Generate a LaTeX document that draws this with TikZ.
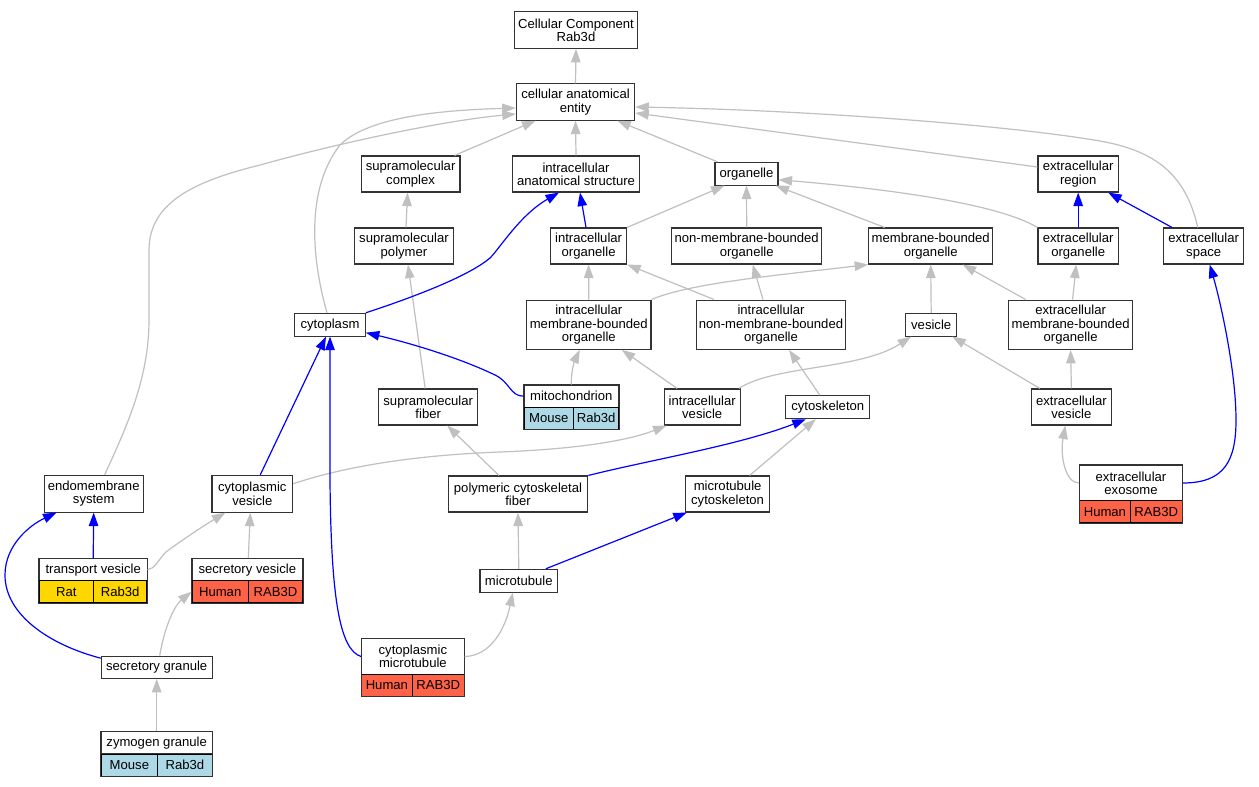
\documentclass[tikz,border=0pt]{standalone}
\usepackage{fontspec}
\setmainfont{Liberation Sans}
\usetikzlibrary{arrows.meta}
\definecolor{edgegray}{HTML}{C0C0C0}
\definecolor{rblue}{HTML}{ADD8E6}
\definecolor{rgold}{HTML}{FFD700}
\definecolor{rtomato}{HTML}{FF6347}
\definecolor{bordergray}{HTML}{333333}
\begin{document}
\begin{tikzpicture}[x=1pt,y=-1pt,
  font=\fontsize{13.1}{13.3}\selectfont,
  box/.style={draw=bordergray, line width=1.1pt, fill=white, inner sep=0pt, align=center},
  sz/.style 2 args={minimum width=#1pt, minimum height=#2pt},
  cell/.style={draw=black, line width=0.9pt, inner sep=0pt},
  frame/.style={draw=bordergray, line width=1.1pt},
  ge/.style={draw=edgegray, line width=1.2pt, -{Triangle[length=13.5pt,width=9.5pt]}},
  be/.style={draw=blue, line width=1.2pt, -{Triangle[length=13.5pt,width=9.5pt]}}]
\useasboundingbox (0,0) rectangle (1259,787);
\fill[white] (0,0) rectangle (1259,787);

% ---------- plain nodes ----------
\node[box,sz={123}{36.6}] (cc) at (576,30) {Cellular Component\\Rab3d};
\node[box,sz={118.4}{36.3}] (cae) at (575.5,102) {cellular anatomical\\entity};
\node[box,sz={98.8}{36}] (supc) at (410.6,174) {supramolecular\\complex};
\node[box,sz={127.4}{36}] (ias) at (576,174) {intracellular\\anatomical structure};
\node[box,sz={63}{22.7}] (org) at (746.5,173.7) {organelle};
\node[box,sz={80.4}{36}] (exr) at (1078.2,174) {extracellular\\region};
\node[box,sz={76}{36}] (intorg) at (588.6,246) {intracellular\\organelle};
\node[box,sz={98.8}{36}] (suppol) at (404,246) {supramolecular\\polymer};
\node[box,sz={150}{36}] (nmbo) at (746.7,246) {non-membrane-bounded\\organelle};
\node[box,sz={124}{36}] (mbo) at (930.7,246) {membrane-bounded\\organelle};
\node[box,sz={80.4}{36}] (exorg) at (1078.2,246) {extracellular\\organelle};
\node[box,sz={80}{36}] (exsp) at (1203.7,246) {extracellular\\space};
\node[box,sz={70.6}{22.7}] (cyto) at (330,324.7) {cytoplasm};
\node[box,sz={124.3}{49.3}] (imbo) at (588.8,324.7) {intracellular\\membrane-bounded\\organelle};
\node[box,sz={149.4}{49.3}] (inmbo) at (771,324.7) {intracellular\\non-membrane-bounded\\organelle};
\node[box,sz={51}{22.7}] (ves) at (931.2,324.7) {vesicle};
\node[box,sz={124}{49.3}] (embo) at (1070.6,324.7) {extracellular\\membrane-bounded\\organelle};
\node[box,sz={98.8}{36}] (supfib) at (428.2,407) {supramolecular\\fiber};
\node[box,sz={76.3}{36}] (iv) at (702.2,407) {intracellular\\vesicle};
\node[box,sz={84}{23}] (cytosk) at (827.8,407.2) {cytoskeleton};
\node[box,sz={80}{36}] (ev) at (1071.4,407) {extracellular\\vesicle};
\node[box,sz={99.3}{36.7}] (endo) at (93.7,493.7) {endomembrane\\system};
\node[box,sz={80.7}{36.7}] (cv) at (252.3,493.7) {cytoplasmic\\vesicle};
\node[box,sz={139.6}{36}] (pcf) at (518,494) {polymeric cytoskeletal\\fiber};
\node[box,sz={84.5}{36}] (mtc) at (727.6,494) {microtubule\\cytoskeleton};
\node[box,sz={77.6}{22.7}] (mt) at (518.8,580.7) {microtubule};
\node[box,sz={110.7}{22.3}] (sg) at (156.7,667.2) {secretory granule};

% ---------- record nodes ----------
% mitochondrion
\node[box,sz={94.7}{22.3}] (mito) at (571.3,396.2) {mitochondrion};
\node[cell,fill=rblue,sz={49.7}{22}] (mitoA) at (548.8,418.3) {Mouse};
\node[cell,fill=rblue,sz={45}{22}] (mitoB) at (596.2,418.3) {Rab3d};
\draw[frame] (mito.north west) rectangle (mitoB.south east);
% extracellular exosome
\node[box,sz={102.8}{35.4}] (exo) at (1131,483) {extracellular\\exosome};
\node[cell,fill=rtomato,sz={50.6}{22}] (exoA) at (1104.9,511.7) {Human};
\node[cell,fill=rtomato,sz={52.2}{22}] (exoB) at (1156.3,511.7) {RAB3D};
\draw[frame] (exo.north west) rectangle (exoB.south east);
% transport vesicle
\node[box,sz={107.7}{22}] (tv) at (93.2,569.7) {transport vesicle};
\node[cell,fill=rgold,sz={54.7}{22}] (tvA) at (66.3,591.7) {Rat};
\node[cell,fill=rgold,sz={53}{22}] (tvB) at (120.2,591.7) {Rab3d};
\draw[frame] (tv.north west) rectangle (tvB.south east);
% secretory vesicle
\node[box,sz={110.7}{22}] (sv) at (247.3,569.7) {secretory vesicle};
\node[cell,fill=rtomato,sz={56.3}{22}] (svA) at (220.2,591.7) {Human};
\node[cell,fill=rtomato,sz={54.4}{22}] (svB) at (275.5,591.7) {RAB3D};
\draw[frame] (sv.north west) rectangle (svB.south east);
% cytoplasmic microtubule
\node[box,sz={102.5}{35.6}] (cmt) at (412.9,656.5) {cytoplasmic\\microtubule};
\node[cell,fill=rtomato,sz={50.6}{21.7}] (cmtA) at (386.9,685.2) {Human};
\node[cell,fill=rtomato,sz={51.9}{21.7}] (cmtB) at (438.2,685.2) {RAB3D};
\draw[frame] (cmt.north west) rectangle (cmtB.south east);
% zymogen granule
\node[box,sz={111}{22.3}] (zg) at (156.7,742.8) {zymogen granule};
\node[cell,fill=rblue,sz={56.4}{22}] (zgA) at (129.4,765) {Mouse};
\node[cell,fill=rblue,sz={54.6}{22}] (zgB) at (184.9,765) {Rab3d};
\draw[frame] (zg.north west) rectangle (zgB.south east);

% ---------- grey edges ----------
\draw[ge] (cae.north) -- (cc.south);
\draw[ge] ([xshift=-6pt]supc.north east) -- ([xshift=-40pt]cae.south);
\draw[ge] (ias.north) -- (cae.south);
\draw[ge] ([xshift=3pt]org.north west) -- ([xshift=-18pt]cae.south east);
\draw[ge] ([yshift=7pt]exr.west) -- ([yshift=-11pt]cae.east);
\draw[ge] ([xshift=-6pt]exsp.north) .. controls (1185,170) and (1150,150) .. (1100,141)
   .. controls (1000,124) and (800,110) .. ([yshift=-5pt]cae.east);
\draw[ge] ([xshift=-3pt]cyto.north) .. controls (312,260) and (305,190) .. (340,145)
   .. controls (370,115) and (450,110) .. ([yshift=-6pt]cae.west);
\draw[ge] ([xshift=11pt]endo.north) .. controls (125,430) and (149,380) .. (149,320) -- (149,250)
   .. controls (149,200) and (200,180) .. (260,165) .. controls (350,140) and (450,120) .. ([yshift=-12pt]cae.west);
\draw[ge] ([xshift=2pt]suppol.north) -- ([xshift=-3pt]supc.south);
\draw[ge] (intorg.north east) -- ([xshift=-22pt]org.south);
\draw[ge] (nmbo.north) -- (org.south);
\draw[ge] ([xshift=-46pt]mbo.north) -- ([xshift=-3pt]org.south east);
\draw[ge] (exorg.north west) .. controls (1000,205) and (900,190) .. ([yshift=-6pt]org.east);
\draw[ge] (imbo.north) -- (intorg.south);
\draw[ge] ([xshift=-57pt]inmbo.north) -- (intorg.south east);
\draw[ge] ([xshift=-8pt]inmbo.north) -- ([xshift=6pt]nmbo.south);
\draw[ge] (imbo.north east) .. controls (690,283) and (780,275) .. (mbo.south west);
\draw[ge] (ves.north) -- (mbo.south);
\draw[ge] ([xshift=-45pt]embo.north) -- ([xshift=32pt]mbo.south);
\draw[ge] ([xshift=2pt]embo.north) -- ([xshift=-2pt]exorg.south);
\draw[ge] (mito.north) .. controls (571,370) and (575,360) .. ([xshift=-9pt]imbo.south);
\draw[ge] ([xshift=-25pt]iv.north) -- ([xshift=33pt]imbo.south);
\draw[ge] ([xshift=-2pt]iv.north east) .. controls (775,365) and (860,370) .. ([xshift=6pt]ves.south west);
\draw[ge] ([xshift=9pt]ev.north west) -- ([xshift=-5pt]ves.south east);
\draw[ge] (ev.north) -- (embo.south);
\draw[ge] ([xshift=-8pt]cytosk.north) -- ([xshift=18pt]inmbo.south);
\draw[ge] ([xshift=-3pt]supfib.north) -- ([xshift=4pt]suppol.south);
\draw[ge] ([yshift=10pt]cv.east) .. controls (350,465) and (420,455) .. (500,452)
   .. controls (580,449) and (630,440) .. ([xshift=3pt]iv.south west);
\draw[ge] ([xshift=-19pt]pcf.north) -- ([xshift=19pt]supfib.south);
\draw[ge] ([xshift=22pt]mtc.north) -- ([xshift=-12pt]cytosk.south);
\draw[ge] (exo.west) .. controls (1065,483) and (1060,455) .. ([xshift=-6pt]ev.south);
\draw[ge] (tv.east) .. controls (155,569) and (158,560) .. (166,552)
   .. controls (175,545) and (200,528) .. ([xshift=14pt]cv.south west);
\draw[ge] ([xshift=1pt]sv.north) -- ([xshift=-2pt]cv.south);
\draw[ge] (mt.north) -- (pcf.south);
\draw[ge] (cmt.east) .. controls (490,656) and (505,630) .. ([xshift=-6pt]mt.south);
\draw[ge] ([xshift=3pt]sg.north) .. controls (165,625) and (175,605) .. (svA.west);
\draw[ge] (zg.north) -- (sg.south);

% ---------- blue edges ----------
\draw[be] ([xshift=-2.6pt]intorg.north) -- ([xshift=4pt]ias.south);
\draw[be] (cyto.north east) .. controls (420,295) and (470,275) .. (490,258)
   .. controls (500,248) and (520,215) .. ([xshift=-17pt]ias.south);
\draw[be] (exorg.north) -- (exr.south);
\draw[be] ([xshift=-31.7pt]exsp.north) -- ([xshift=30pt]exr.south);
\draw[be] (mito.west) .. controls (510,396) and (510,382) .. (495,375)
   .. controls (460,358) and (410,343) .. ([yshift=-8pt]cyto.east);
\draw[be] ([xshift=8pt]cv.north) -- ([xshift=-4pt]cyto.south);
\draw[be] (cmt.west) .. controls (340,650) and (331,600) .. (330,480) -- (cyto.south);
\draw[be] (pcf.north east) .. controls (650,460) and (740,445) .. ([xshift=-22pt]cytosk.south);
\draw[be] ([xshift=27pt]mt.north) -- ([xshift=2pt]mtc.south west);
\draw[be] (exo.east) .. controls (1225,483) and (1236,460) .. (1236,420)
   .. controls (1236,370) and (1220,300) .. ([xshift=6pt]exsp.south);
\draw[be] (tv.north) -- (endo.south);
\draw[be] ([yshift=9pt]sg.west) .. controls (50,645) and (5,615) .. (5,575)
   .. controls (5,545) and (30,525) .. ([xshift=13pt]endo.south west);
\end{tikzpicture}
\end{document}
